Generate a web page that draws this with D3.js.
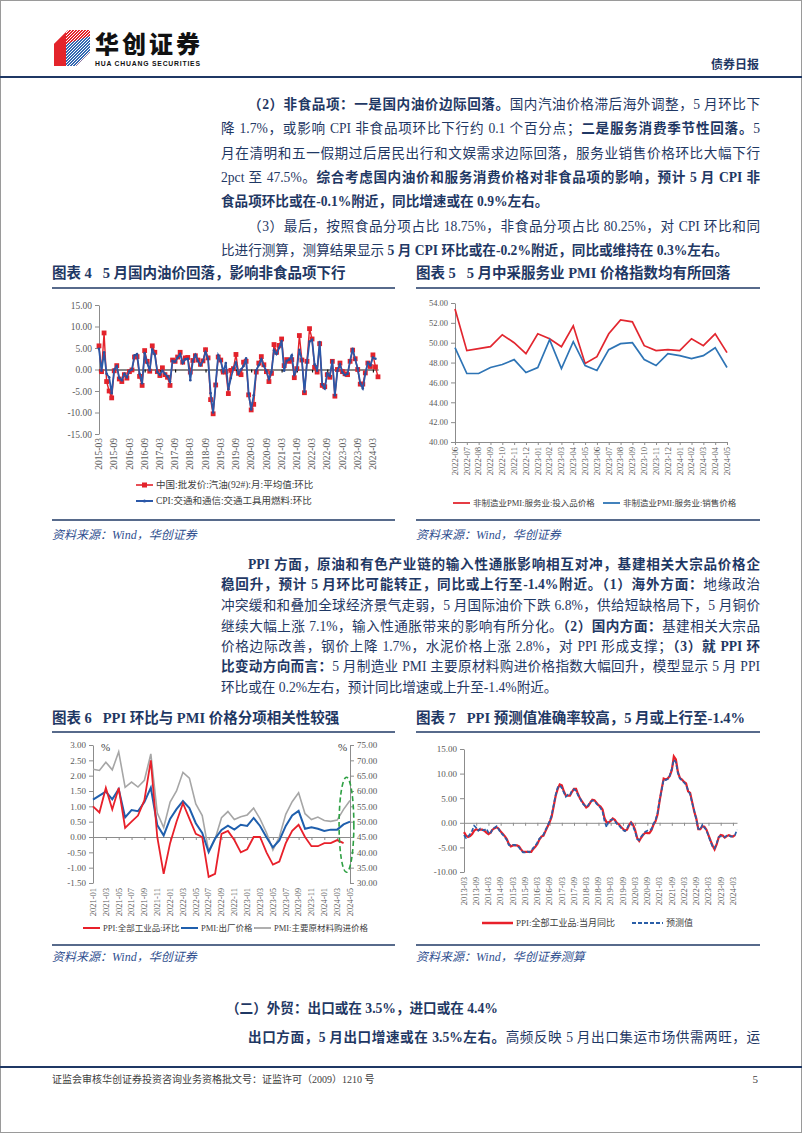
<!DOCTYPE html>
<html><head><meta charset="utf-8">
<script src="https://cdn.jsdelivr.net/npm/d3@7"></script>
<style>
body{margin:0;background:#fff;}
#page{position:relative;width:802px;height:1133px;overflow:hidden;background:#fff;}
.ln{position:absolute;font-family:"Liberation Serif","Noto Sans CJK SC",serif;font-size:13.6px;color:#1f3864;white-space:nowrap;line-height:20px;height:20px;}
.j{text-align:justify;text-align-last:justify;}
.ln b{font-weight:700;}
.tt{position:absolute;font-family:"Liberation Serif","Noto Sans CJK SC",serif;font-weight:700;font-size:14.5px;color:#1f3864;white-space:pre;line-height:20px;}
.src{position:absolute;font-family:"Liberation Serif","Noto Sans CJK SC",serif;font-style:italic;font-size:12px;color:#2f4f8f;white-space:pre;line-height:16px;}
</style></head>
<body><div id="page"></div>
<script>
// ---------------- DATA ----------------
// Chart 4: monthly 2015-03 .. 2024-05 (gasoline wholesale mom) and 2015-03 .. 2024-04 (CPI fuel mom)
const oilStart = [2015, 3];
const oilGasoline = [5.5,-0.5,8.5,-2.8,-5.0,-6.6,-0.3,0.9,-2.2,-2.8,-1.2,-2.0,-0.5,-0.1,2.9,3.0,-1.6,-3.7,4.4,1.9,
 -0.4,5.5,4.0,-0.5,-1.4,0.4,-1.2,-1.8,-3.7,2.2,1.9,2.9,4.0,1.7,2.7,2.8,-0.6,2.1,3.2,2.2,
 1.2,2.0,4.6,2.7,-7.0,-10.3,-3.6,2.9,2.2,-0.6,-0.5,-5.6,-0.2,0.2,3.5,-0.9,-1.2,1.7,1.9,-5.9,
 -9.4,-8.1,-0.6,1.5,3.0,1.1,-0.5,-2.8,-0.9,5.8,4.0,5.6,7.1,0.9,2.3,1.9,2.3,-1.9,0.2,7.9,
 2.2,-5.4,1.9,9.5,7.1,0.5,-0.6,6.0,-3.7,-4.0,-1.2,-1.8,1.9,-6.2,0.0,1.5,-0.5,-1.0,-1.2,1.9,
 4.5,2.5,0.0,-3.4,-3.4,-0.8,1.5,0.7,3.4,0.6,-1.7];
const cpiFuel = [4.8,-0.3,4.0,-1.0,-1.8,-5.5,0.0,0.8,-2.0,-2.5,-1.0,-1.8,-0.3,0.0,3.3,3.6,-1.0,-3.2,3.8,1.5,
 -0.2,4.6,3.5,-0.6,-1.2,-0.3,-1.0,-1.6,-2.8,2.0,1.8,2.8,3.6,1.5,2.4,2.5,-2.5,2.0,3.4,2.0,
 1.0,2.0,4.0,2.5,-5.5,-10.0,-3.4,3.3,2.0,-0.5,1.5,-4.6,-2.0,0.3,1.6,-1.0,0.0,0.8,2.6,-5.6,
 -9.3,-6.0,-0.2,1.0,2.4,0.8,-0.3,-2.2,-0.6,4.5,3.6,5.0,6.6,-0.3,2.0,2.3,3.3,-1.2,0.0,4.6,
 2.2,-5.2,1.6,6.5,6.9,1.2,-0.3,6.4,-3.5,-4.4,-0.9,-1.5,2.0,-6.0,-0.3,1.2,-0.7,-1.3,-1.0,2.0,
 4.8,2.4,0.2,-3.2,-4.4,-1.0,1.6,1.0,2.8,2.5];
const c4XLabels = ["2015-03","2015-09","2016-03","2016-09","2017-03","2017-09","2018-03","2018-09","2019-03","2019-09",
 "2020-03","2020-09","2021-03","2021-09","2022-03","2022-09","2023-03","2023-09","2024-03"];
const c4YTicks = [-15,-10,-5,0,5,10,15];
const c4Legend = ["中国:批发价:汽油(92#):月:平均值:环比","CPI:交通和通信:交通工具用燃料:环比"];

// Chart 5: 2022-06 .. 2024-05
const c5Months = ["2022-06","2022-07","2022-08","2022-09","2022-10","2022-11","2022-12","2023-01","2023-02","2023-03","2023-04","2023-05",
 "2023-06","2023-07","2023-08","2023-09","2023-10","2023-11","2023-12","2024-01","2024-02","2024-03","2024-04","2024-05"];
const svcInput = [53.4,49.2,49.4,49.6,50.8,50.0,48.9,50.9,50.4,49.6,51.7,47.9,48.6,50.9,52.3,52.1,49.7,49.2,49.3,49.2,50.4,49.7,50.9,49.0];
const svcSales = [49.5,46.9,46.9,47.5,47.8,48.3,47.0,47.5,50.3,47.4,50.1,47.7,47.2,49.3,49.9,50.0,48.3,47.7,48.9,48.7,48.4,48.7,49.5,47.5];
const c5YTicks = [40,42,44,46,48,50,52,54];
const c5Legend = ["非制造业PMI:服务业:投入品价格","非制造业PMI:服务业:销售价格"];

// Chart 6: 2021-01 .. 2024-05
const c6Start = [2021, 1];
const ppiMom = [1.0,0.8,1.6,0.9,1.6,0.3,0.5,0.7,1.2,2.5,0.0,-1.2,-0.2,0.5,1.1,0.6,0.1,0.0,-1.3,-1.2,
 0.1,0.2,-0.1,-0.5,-0.4,0.0,0.0,-0.5,-0.9,-0.8,-0.2,0.2,0.4,0.0,-0.3,-0.3,-0.2,-0.2,-0.1,-0.2];
const pmiOutput = [57.2,58.5,59.8,57.3,60.6,51.4,53.8,53.4,56.4,61.1,48.9,45.5,50.9,54.1,56.7,54.4,49.5,46.3,40.1,44.5,
 47.3,48.7,47.4,49.0,48.6,51.2,48.6,44.9,41.6,43.9,48.6,52.0,53.5,47.7,48.2,47.7,47.0,47.4,47.4,49.1,50.0];
const pmiInput = [67.1,66.7,69.4,66.9,72.8,61.2,62.9,61.3,63.5,72.1,52.9,48.1,56.4,60.0,66.1,64.2,55.8,52.0,40.4,44.3,
 51.3,53.3,50.7,51.6,52.2,54.4,50.9,46.4,40.8,45.0,52.4,56.5,59.4,52.6,50.7,51.5,50.4,50.1,50.5,54.0,56.9];
const c6XLabels = ["2021-01","2021-03","2021-05","2021-07","2021-09","2021-11","2022-01","2022-03","2022-05","2022-07","2022-09",
 "2022-11","2023-01","2023-03","2023-05","2023-07","2023-09","2023-11","2024-01","2024-03","2024-05"];
const c6LeftTicks = [-1.5,-1,-0.5,0,0.5,1,1.5,2,2.5,3];
const c6RightTicks = [30,35,40,45,50,55,60,65,70,75];
const c6Legend = ["PPI:全部工业品:环比","PMI:出厂价格","PMI:主要原材料购进价格"];
const c6Highlight = {from: 38.3, to: 40.6, top: 1.95, bottom: -1.15};

// Chart 7: 2013-03 .. 2024-04 (actual), 2013-03 .. 2024-05 (forecast)
const c7Start = [2013, 3];
const ppiYoy = [-1.9,-2.6,-2.9,-2.7,-2.3,-1.6,-1.3,-1.5,-1.4,-1.4,
 -1.6,-2.0,-2.3,-2.0,-1.4,-1.1,-0.9,-1.2,-1.8,-2.2,-2.7,-3.3,
 -4.3,-4.8,-4.6,-4.6,-4.6,-4.8,-5.4,-5.9,-5.9,-5.9,-5.9,-5.9,
 -5.3,-4.9,-4.3,-3.4,-2.8,-2.6,-1.7,-0.8,0.1,1.2,3.3,5.5,
 6.9,7.8,7.6,6.4,5.5,5.5,5.5,6.3,6.9,6.9,5.8,4.9,
 4.3,3.7,3.1,3.4,4.1,4.7,4.6,4.1,3.6,3.3,2.7,0.9,
 0.1,0.1,0.4,0.9,0.6,0.0,-0.3,-0.8,-1.2,-1.6,-1.4,-0.5,
 0.1,-0.4,-1.5,-3.1,-3.7,-3.0,-2.4,-2.0,-2.1,-2.1,-1.5,-0.4,
 0.3,1.7,4.4,6.8,9.0,8.8,9.0,9.5,10.7,13.5,12.9,10.3,
 9.1,8.8,8.3,8.0,6.4,6.1,4.2,2.3,0.9,-1.3,-1.3,-0.7,
 -0.8,-1.4,-2.5,-3.6,-4.6,-5.4,-4.4,-3.0,-2.5,-2.6,-3.0,-2.7,
 -2.5,-2.7,-2.8,-2.5];
const ppiForecast = [-2.5,-3.1,-2.8,-2.3,-1.6,-0.6,-1.0,-1.6,-1.2,-1.5,
 -1.5,-1.2,-2.0,-2.2,-1.2,-1.0,-0.7,-1.3,-2.0,-2.4,-2.9,-3.5,
 -4.5,-4.6,-4.5,-4.5,-4.7,-5.0,-5.6,-6.0,-6.0,-5.8,-6.0,-5.7,
 -5.1,-4.7,-4.0,-3.2,-2.9,-2.4,-1.5,-0.6,0.3,1.5,3.6,5.7,
 7.2,7.6,7.1,6.2,5.3,5.7,5.6,6.6,6.8,6.5,5.6,5.0,
 4.0,3.6,3.2,3.6,4.3,4.5,4.5,3.9,3.5,3.0,2.3,0.3,
 -0.9,0.3,0.6,0.7,0.4,-0.2,-0.5,-1.0,-1.5,-1.7,-1.2,-0.3,
 0.0,-0.8,-1.8,-3.3,-3.5,-2.8,-2.3,-1.8,-1.6,-1.4,-1.3,-0.2,
 0.5,2.0,4.6,6.6,8.8,8.7,8.9,9.6,11.0,12.8,12.3,10.1,
 9.0,8.6,8.2,7.7,6.6,5.8,4.0,2.5,0.7,-1.2,-1.4,-0.4,
 -1.0,-1.5,-2.7,-3.8,-4.8,-5.2,-4.2,-2.9,-2.7,-2.8,-2.9,-2.6,
 -2.6,-2.8,-2.7,-2.5,-1.4];
const c7XLabels = ["2013-03","2013-09","2014-03","2014-09","2015-03","2015-09","2016-03","2016-09","2017-03","2017-09","2018-03",
 "2018-09","2019-03","2019-09","2020-03","2020-09","2021-03","2021-09","2022-03","2022-09","2023-03","2023-09","2024-03"];
const c7YTicks = [-10,-5,0,5,10,15];
const c7Legend = ["PPI:全部工业品:当月同比","预测值"];

// ---------------- TEXT ----------------
const para1 = [
 {y:105, ind:true, j:true, h:'<b>（2）非食品项：一是国内油价边际回落。</b>国内汽油价格滞后海外调整，5 月环比下'},
 {y:129, j:true, h:'降 1.7%，或影响 CPI 非食品项环比下行约 0.1 个百分点；<b>二是服务消费季节性回落。</b>5'},
 {y:154, j:true, h:'月在清明和五一假期过后居民出行和文娱需求边际回落，服务业销售价格环比大幅下行'},
 {y:178, j:true, h:'2pct 至 47.5%。<b>综合考虑国内油价和服务消费价格对非食品项的影响，预计 5 月 CPI 非</b>'},
 {y:202, h:'<b>食品项环比或在-0.1%附近，同比增速或在 0.9%左右。</b>'},
 {y:227, ind:true, j:true, h:'（3）最后，按照食品分项占比 18.75%，非食品分项占比 80.25%，对 CPI 环比和同'},
 {y:251, h:'比进行测算，测算结果显示 <b>5 月 CPI 环比或在-0.2%附近，同比或维持在 0.3%左右。</b>'}
];
const para2 = [
 {y:565, ind:true, j:true, h:'<b>PPI 方面，原油和有色产业链的输入性通胀影响相互对冲，基建相关大宗品价格企</b>'},
 {y:585, j:true, h:'<b>稳回升，预计 5 月环比可能转正，同比或上行至-1.4%附近。（1）海外方面：</b>地缘政治'},
 {y:606, j:true, h:'冲突缓和和叠加全球经济景气走弱，5 月国际油价下跌 6.8%，供给短缺格局下，5 月铜价'},
 {y:627, j:true, h:'继续大幅上涨 7.1%，输入性通胀带来的影响有所分化。<b>（2）国内方面：</b>基建相关大宗品'},
 {y:647, j:true, h:'价格边际改善，钢价上降 1.7%，水泥价格上涨 2.8%，对 PPI 形成支撑；<b>（3）就 PPI 环</b>'},
 {y:667, j:true, h:'<b>比变动方向而言：</b>5 月制造业 PMI 主要原材料购进价格指数大幅回升，模型显示 5 月 PPI'},
 {y:688, h:'环比或在 0.2%左右，预计同比增速或上升至-1.4%附近。'}
];
const para3 = [
 {y:1009, x:226, h:'<b>（二）外贸：出口或在 3.5%，进口或在 4.4%</b>'},
 {y:1038, ind:true, j:true, h:'<b>出口方面，5 月出口增速或在 3.5%左右。</b>高频反映 5 月出口集运市场供需两旺，运'}
];

// ---------------- DRAW ----------------
const page = d3.select('#page');
const svg = page.append('svg').attr('width',802).attr('height',1133)
  .style('position','absolute').style('left','0px').style('top','0px');
const NAVY = '#1f3864';
const RED = '#e3222b';
const fmt2 = d => d.toFixed(2);
const serif = '"Liberation Serif","Noto Sans CJK SC",serif';
const monthIndex = (s, start) => { const [yy, mm] = s.split('-').map(Number); return (yy-start[0])*12 + (mm-start[1]); };

// page border
svg.append('rect').attr('x',0.5).attr('y',0.5).attr('width',801).attr('height',1132).attr('fill','none').attr('stroke','#9a9a9a');

// header logo
const defs = svg.append('defs');
defs.append('clipPath').attr('id','logoclip').append('polygon').attr('points','54,44 68,30 90,30 90,52 76,66 54,66');
const lg = svg.append('g').attr('clip-path','url(#logoclip)');
lg.append('rect').attr('x',54).attr('y',29).attr('width',37).attr('height',38).attr('fill','#e3242b');
lg.append('polygon').attr('points','66,44 90,36 90,67 66,67').attr('fill','#3569b2');
const stripes = lg.append('g').attr('stroke','#fff').attr('stroke-width',1);
d3.range(-40, 40, 3).forEach(k => {
  stripes.append('line').attr('x1',66+k).attr('y1',67).attr('x2',66+k+40).attr('y2',27);
});
lg.append('polygon').attr('points','54,44 66,32 66,67 54,67').attr('fill','#e3242b');
svg.append('text').attr('x',95).attr('y',53).attr('font-family','"Noto Sans CJK SC"').attr('font-weight',900)
  .attr('font-size',24).attr('fill','#111').attr('textLength',105).text('华创证券');
svg.append('text').attr('x',95).attr('y',66).attr('font-family','"Liberation Sans",Arial').attr('font-weight',700)
  .attr('font-size',6.8).attr('fill','#111').attr('textLength',105).text('HUA CHUANG SECURITIES');
svg.append('text').attr('x',759).attr('y',69).attr('text-anchor','end').attr('font-family','"Noto Sans CJK SC"').attr('font-weight',700)
  .attr('font-size',12).attr('fill',NAVY).text('债券日报');
svg.append('line').attr('x1',0).attr('x2',802).attr('y1',77).attr('y2',77).attr('stroke',NAVY).attr('stroke-width',2.2);

// footer
svg.append('line').attr('x1',0).attr('x2',802).attr('y1',1067).attr('y2',1067).attr('stroke',NAVY).attr('stroke-width',2.2);
svg.append('text').attr('x',52).attr('y',1083).attr('font-family',serif).attr('font-size',10).attr('fill','#404040')
  .text('证监会审核华创证券投资咨询业务资格批文号：证监许可（2009）1210 号');
svg.append('text').attr('x',758).attr('y',1083).attr('text-anchor','end').attr('font-family',serif).attr('font-size',11).attr('fill','#404040').text('5');

// text paragraphs
function drawLines(lines){
  lines.forEach(l => {
    const x = l.x !== undefined ? l.x : (l.ind ? 248 : 221);
    const d = page.append('div').attr('class','ln' + (l.j ? ' j' : '')).style('left', x+'px').style('top', (l.y-10)+'px').html(l.h);
    if (l.j) d.style('width', (760-x)+'px');
  });
}
drawLines(para1); drawLines(para2); drawLines(para3);

// chart frames
function frame(x0, x1, titleY, ruleY, bottomY, srcY, title, src){
  page.append('div').attr('class','tt').style('left',x0+'px').style('top',(titleY-10)+'px').text(title);
  svg.append('line').attr('x1',x0).attr('x2',x1).attr('y1',ruleY).attr('y2',ruleY).attr('stroke',NAVY).attr('stroke-width',1.6);
  svg.append('line').attr('x1',x0).attr('x2',x1).attr('y1',bottomY).attr('y2',bottomY).attr('stroke',NAVY).attr('stroke-width',1.6);
  page.append('div').attr('class','src').style('left',x0+'px').style('top',(srcY-8)+'px').text(src);
}
frame(52,395,273,288,520,535,'图表 4   5 月国内油价回落，影响非食品项下行','资料来源：Wind，华创证券');
frame(416,760,273,288,520,535,'图表 5   5 月中采服务业 PMI 价格指数均有所回落','资料来源：Wind，华创证券');
frame(52,395,718,732,945,957,'图表 6   PPI 环比与 PMI 价格分项相关性较强','资料来源：Wind，华创证券');
frame(416,760,718,732,945,957,'图表 7   PPI 预测值准确率较高，5 月或上行至-1.4%','资料来源：Wind，华创证券测算');

function styleAxis(g, size){
  g.selectAll('path,line').attr('stroke','#8c8c8c');
  g.selectAll('text').attr('fill','#595959').attr('font-family',serif).attr('font-size',size||9);
}
function rotLabels(g, labels, xf, y, size){
  g.selectAll(null).data(labels).join('text')
    .attr('transform', d => `translate(${xf(d)},${y}) rotate(-90)`)
    .attr('text-anchor','end').attr('dy','0.33em')
    .attr('font-family',serif).attr('font-size',size||9).attr('fill','#595959').text(d => d);
}
function legendItem(g, x, y, len, color, text, opts){
  opts = opts || {};
  g.append('line').attr('x1',x).attr('x2',x+len).attr('y1',y).attr('y2',y).attr('stroke',color)
    .attr('stroke-width',opts.w||2).attr('stroke-dasharray',opts.dash||null);
  if (opts.square) g.append('rect').attr('x',x+len/2-2.5).attr('y',y-2.5).attr('width',5).attr('height',5).attr('fill',color);
  if (opts.dot) g.append('circle').attr('cx',x+len/2).attr('cy',y).attr('r',1.6).attr('fill',color);
  g.append('text').attr('x',x+len+3).attr('y',y).attr('dy','0.35em').attr('font-family',serif)
    .attr('font-size',opts.fs||9).attr('fill','#404040').text(text);
}

// ---- Chart 4 ----
{
  const g = svg.append('g');
  const x = d3.scaleLinear().domain([0, oilGasoline.length-1]).range([99,378]);
  const y = d3.scaleLinear().domain([-15,15]).range([434,305]);
  g.append('g').attr('transform',`translate(${x(0)},0)`)
    .call(d3.axisLeft(y).tickValues(c4YTicks).tickFormat(fmt2).tickSize(4).tickSizeOuter(0)).call(a=>styleAxis(a,9.5));
  g.append('g').attr('transform',`translate(0,${y(0)})`)
    .call(d3.axisBottom(x).tickValues(c4XLabels.map(s=>monthIndex(s,oilStart))).tickFormat('').tickSize(3).tickSizeOuter(0))
    .call(a=>{a.selectAll('path,line').attr('stroke','#111').attr('stroke-width',1.2);});
  rotLabels(g, c4XLabels, s=>x(monthIndex(s,oilStart)), y(-15)+4, 9.5);
  const line = d3.line().x((d,i)=>x(i)).y(d=>y(d));
  g.append('path').datum(oilGasoline).attr('d',line).attr('fill','none').attr('stroke',RED).attr('stroke-width',1.4);
  g.selectAll(null).data(oilGasoline).join('rect').attr('x',(d,i)=>x(i)-2.4).attr('y',d=>y(d)-2.4)
    .attr('width',4.8).attr('height',4.8).attr('fill',RED);
  g.append('path').datum(cpiFuel).attr('d',line).attr('fill','none').attr('stroke','#2b58a8').attr('stroke-width',1.8);
  g.selectAll(null).data(cpiFuel).join('circle').attr('cx',(d,i)=>x(i)).attr('cy',d=>y(d)).attr('r',1.3).attr('fill','#2b4f9a');
  legendItem(g,136,485,17,RED,c4Legend[0],{square:true,fs:9.5,w:1.6});
  legendItem(g,136,501,17,'#2b58a8',c4Legend[1],{dot:true,fs:9.5,w:2});
}

// ---- Chart 5 ----
{
  const g = svg.append('g');
  const x = d3.scalePoint().domain(c5Months).range([455,727]);
  const y = d3.scaleLinear().domain([40,54]).range([442,303]);
  g.append('g').attr('transform',`translate(${x(c5Months[0])},0)`)
    .call(d3.axisLeft(y).tickValues(c5YTicks).tickFormat(fmt2).tickSize(4).tickSizeOuter(0)).call(a=>styleAxis(a,8.5));
  g.append('g').attr('transform',`translate(0,${y(40)})`)
    .call(d3.axisBottom(x).tickFormat('').tickSize(3).tickSizeOuter(0)).call(a=>styleAxis(a));
  rotLabels(g, c5Months, s=>x(s), y(40)+5, 8.5);
  const line = d3.line().x((d,i)=>x(c5Months[i])).y(d=>y(d));
  g.append('path').datum(svcInput).attr('d',line).attr('fill','none').attr('stroke','#e2262f').attr('stroke-width',1.7);
  g.append('path').datum(svcSales).attr('d',line).attr('fill','none').attr('stroke','#2e74b5').attr('stroke-width',1.7);
  legendItem(g,453,503,17,'#e2262f',c5Legend[0],{fs:8.5,w:1.8});
  legendItem(g,603,503,17,'#2e74b5',c5Legend[1],{fs:8.5,w:1.8});
}

// ---- Chart 6 ----
{
  const g = svg.append('g');
  const x = d3.scaleLinear().domain([0, pmiOutput.length-1]).range([93,350]);
  const yL = d3.scaleLinear().domain([-1.5,3]).range([883,745]);
  const yR = d3.scaleLinear().domain([30,75]).range([883,745]);
  g.append('g').attr('transform',`translate(${x(0)},0)`)
    .call(d3.axisLeft(yL).tickValues(c6LeftTicks).tickFormat(fmt2).tickSize(4).tickSizeOuter(0)).call(a=>styleAxis(a,9));
  g.append('g').attr('transform',`translate(${x(pmiOutput.length-1)},0)`)
    .call(d3.axisRight(yR).tickValues(c6RightTicks).tickFormat(fmt2).tickSize(4).tickSizeOuter(0)).call(a=>styleAxis(a,9));
  g.append('g').attr('transform',`translate(0,${yL(0)})`)
    .call(d3.axisBottom(x).tickValues(c6XLabels.map(s=>monthIndex(s,c6Start))).tickFormat('').tickSize(3).tickSizeOuter(0)).call(a=>styleAxis(a));
  rotLabels(g, c6XLabels, s=>x(monthIndex(s,c6Start)), yL(-1.5)+5, 8.5);
  g.append('text').attr('x',x(0)+8).attr('y',yL(3)+6).attr('font-family',serif).attr('font-size',11).attr('fill','#404040').text('%');
  g.append('text').attr('x',x(pmiOutput.length-1)-12).attr('y',yR(75)+6).attr('font-family',serif).attr('font-size',11).attr('fill','#404040').text('%');
  g.append('path').datum(pmiInput).attr('d',d3.line().x((d,i)=>x(i)).y(d=>yR(d))).attr('fill','none').attr('stroke','#a6a6a6').attr('stroke-width',1.6);
  g.append('path').datum(pmiOutput).attr('d',d3.line().x((d,i)=>x(i)).y(d=>yR(d))).attr('fill','none').attr('stroke','#1f5fad').attr('stroke-width',2);
  g.append('path').datum(ppiMom).attr('d',d3.line().x((d,i)=>x(i)).y(d=>yL(d))).attr('fill','none').attr('stroke','#e8202a').attr('stroke-width',1.8);
  const cx = (x(c6Highlight.from)+x(c6Highlight.to))/2, cy = (yL(c6Highlight.top)+yL(c6Highlight.bottom))/2;
  g.append('ellipse').attr('cx',cx).attr('cy',cy).attr('rx',(x(c6Highlight.to)-x(c6Highlight.from))/2)
    .attr('ry',(yL(c6Highlight.bottom)-yL(c6Highlight.top))/2).attr('fill','none').attr('stroke','#2ea043')
    .attr('stroke-width',1.6).attr('stroke-dasharray','5,3');
  legendItem(g,83,928,17,'#e8202a',c6Legend[0],{fs:8.5,w:2});
  legendItem(g,181,928,17,'#1f5fad',c6Legend[1],{fs:8.5,w:2});
  legendItem(g,254,928,17,'#a6a6a6',c6Legend[2],{fs:8.5,w:1.8});
}

// ---- Chart 7 ----
{
  const g = svg.append('g');
  const x = d3.scaleLinear().domain([0, ppiForecast.length-1]).range([464,737]);
  const y = d3.scaleLinear().domain([-10,15]).range([872,749]);
  g.append('g').attr('transform',`translate(${x(0)},0)`)
    .call(d3.axisLeft(y).tickValues(c7YTicks).tickFormat(fmt2).tickSize(4).tickSizeOuter(0)).call(a=>styleAxis(a,9));
  g.append('g').attr('transform',`translate(0,${y(0)})`)
    .call(d3.axisBottom(x).tickValues(c7XLabels.map(s=>monthIndex(s,c7Start))).tickFormat('').tickSize(3).tickSizeOuter(0)).call(a=>styleAxis(a));
  rotLabels(g, c7XLabels, s=>x(monthIndex(s,c7Start)), y(-10)+5, 8.5);
  const line = d3.line().x((d,i)=>x(i)).y(d=>y(d));
  g.append('path').datum(ppiYoy).attr('d',line).attr('fill','none').attr('stroke','#e8202a').attr('stroke-width',2.2);
  g.append('path').datum(ppiForecast).attr('d',line).attr('fill','none').attr('stroke','#2a5ea8').attr('stroke-width',1.7).attr('stroke-dasharray','4,2');
  legendItem(g,482,923,31,'#e8202a',c7Legend[0],{fs:9,w:2.5});
  legendItem(g,632,923,31,'#2a5ea8',c7Legend[1],{fs:9,w:2,dash:'4,2'});
}
</script>
</body></html>
